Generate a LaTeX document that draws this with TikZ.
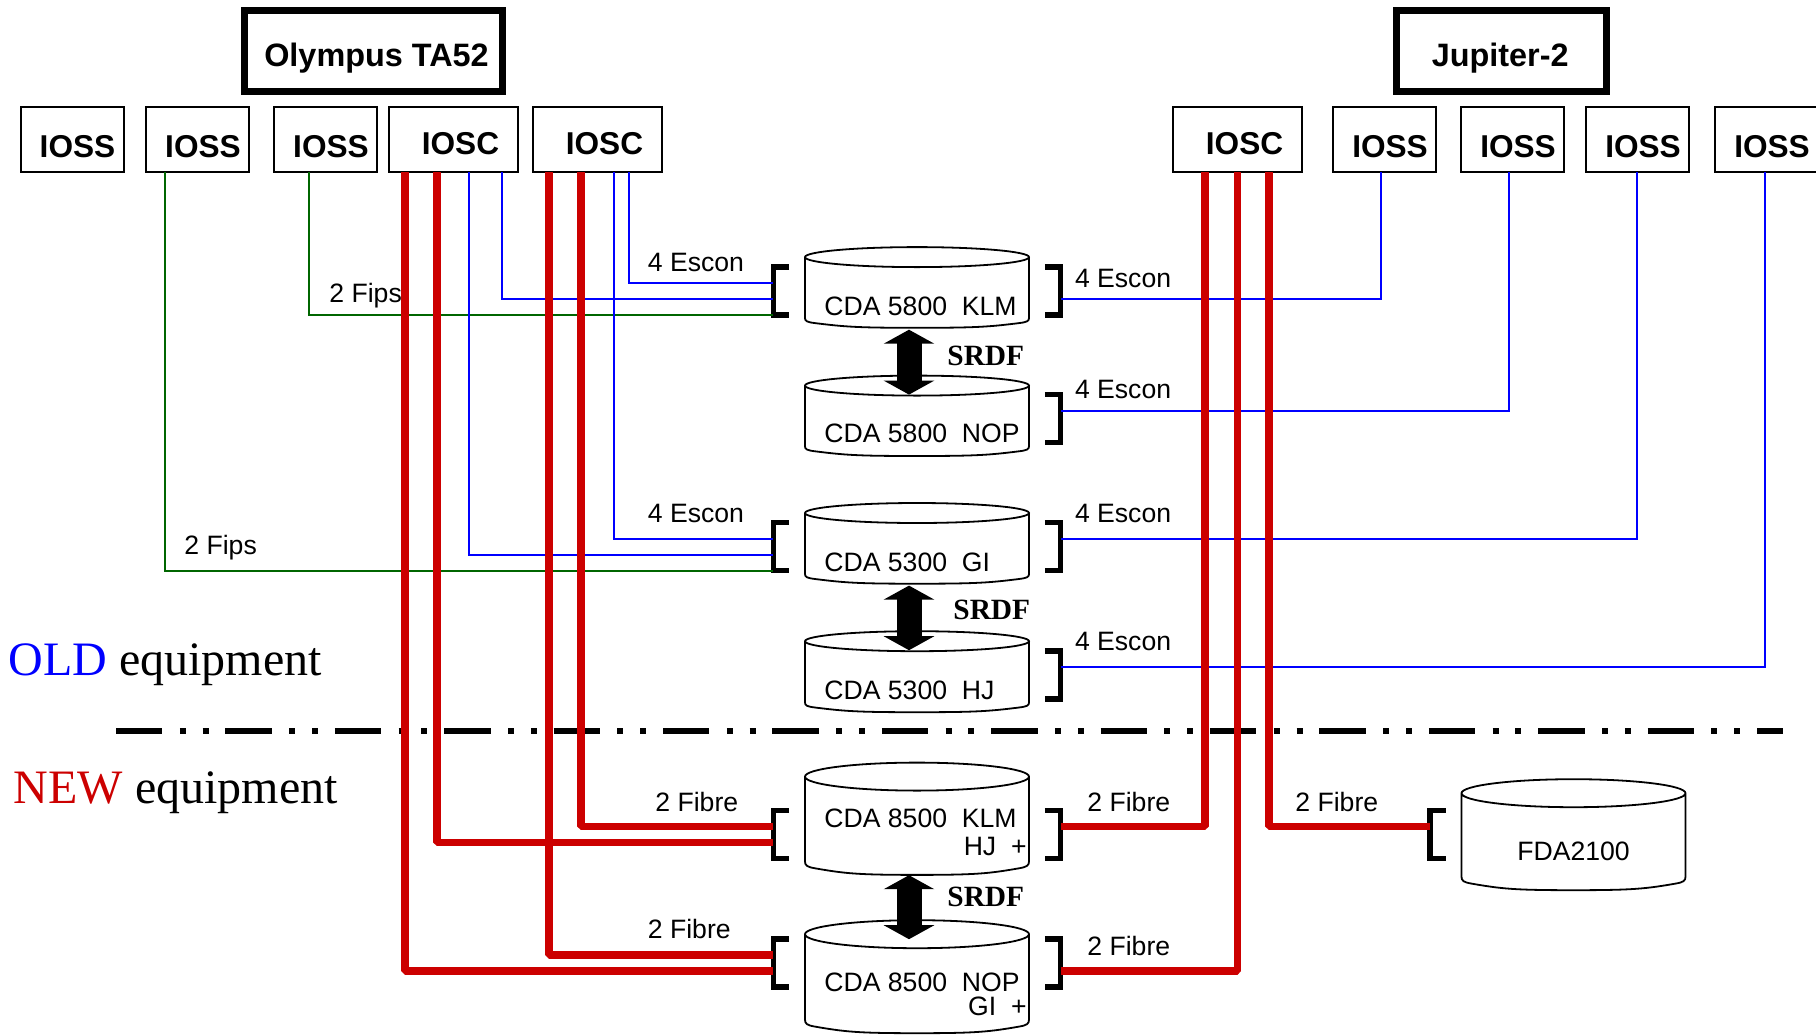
\documentclass[tikz,border=0pt]{standalone}
\usepackage{fontspec}
\setmainfont{Liberation Sans}
\newfontfamily\srdffont{Liberation Serif}
\usepackage{xcolor}
\definecolor{oldblue}{HTML}{0000FF}
\definecolor{newred}{HTML}{CC0000}
\definecolor{fipsgreen}{HTML}{006600}
\usetikzlibrary{arrows.meta,positioning}
\tikzset{
  box/.style={draw=black,line width=1pt,inner sep=0pt,outer sep=0pt,minimum height=32.5pt,font=\bfseries\fontsize{15.8}{18}\selectfont},
  ioss/.style={box,minimum width=51.5pt,text height=17.8pt,text depth=0pt,execute at begin node=\hspace*{5.5pt}},
  iosc/.style={box,minimum width=64.5pt,text height=14.5pt,text depth=0pt,execute at begin node=\hspace*{7pt}},
  host/.style={box,line width=3.5pt,minimum height=40.5pt,minimum width=105pt,text height=15.7pt,text depth=0pt,font=\bfseries\fontsize{16.2}{18}\selectfont},
  cda/.style={inner sep=0pt,outer sep=0pt,minimum width=112pt,minimum height=40.3pt},
  cdab/.style={cda,minimum height=56.3pt},
  cdaline/.style={draw=black,fill=white,line width=0.9pt},
  lab/.style={inner sep=0pt,anchor=base west,font=\fontsize{13.3}{15}\selectfont},
  srdf/.style={inner sep=0pt,anchor=base west,font=\srdffont\bfseries\fontsize{14.7}{16}\selectfont},
  hdg/.style={inner sep=0pt,anchor=base west,font=\srdffont\fontsize{24}{28}\selectfont},
  brk/.style={line width=2.6pt},
  fips/.style={draw=fipsgreen,line width=1pt},
  escon/.style={draw=oldblue,line width=1pt},
  fibre/.style={draw=newred,line width=3.8pt,line join=bevel},
  srdfarr/.style={line width=12.5pt,{Triangle[width=25pt,length=7pt]}-{Triangle[width=25pt,length=7pt]}},
}
\begin{document}
\begin{tikzpicture}[x=0.5pt,y=-0.5pt]
\useasboundingbox (0,0) rectangle (1816,1034);
% hosts
\node[host,minimum width=129pt,execute at begin node=\hspace*{3.5pt}] (olympus) at (373,51) {Olympus TA52};
\node[host,execute at begin node=\hspace*{-1.3pt}] (jupiter) at (1501.5,51) {Jupiter-2};
% channel boxes
\node[ioss] (iossa) at (72,139.5) {IOSS};
\node[ioss,right=11.25pt of iossa] (iossb) {IOSS};
\node[ioss,right=12.5pt of iossb] (iossc) {IOSS};
\node[iosc,right=6pt of iossc] (iosca) {IOSC};
\node[iosc,right=7.5pt of iosca] (ioscb) {IOSC};
\node[iosc] (ioscj) at (1237.5,139.5) {IOSC};
\node[ioss,right=15.5pt of ioscj] (iossj) {IOSS};
\node[ioss,right=12.5pt of iossj] (iossk) {IOSS};
\node[ioss,right=11pt of iossk] (iossl) {IOSS};
\node[ioss,right=13pt of iossl] (iossm) {IOSS};
% disks
\node[cda] (cdaklm) at (917,287.4) {};
\node[cda] (cdanop) at (917,415.9) {};
\node[cda] (cdagi) at (917,543.3) {};
\node[cda] (cdahj) at (917,671.5) {};
\node[cdab] (newklm) at (917,818.9) {};
\node[cdab] (newnop) at (917,976.5) {};
\node[cdab] (fda) at (1573.5,835.5) {};
\foreach \n/\r/\h in {cdaklm/10/61,cdanop/10/60.7,cdagi/10/61,cdahj/10/61.3,newklm/14/84.7,newnop/14/85.4,fda/14/83.4}
  \draw[cdaline] (\n.north west) ++(0,\r) arc[start angle=180,end angle=-180,x radius=112,y radius=\r]
    -- ++(0,\h) .. controls +(0,0.3*\r) and +(-8,-0.1*\r) .. ++(10,0.5*\r)
    .. controls +(30,0.37*\r) and +(-60,0) .. ++(102,0.47*\r)
    .. controls +(60,0) and +(-30,0.37*\r) .. ++(102,-0.47*\r)
    .. controls +(8,-0.1*\r) and +(0,0.3*\r) .. ++(10,-0.5*\r) -- ++(0,-\h);
% brackets
\foreach \n/\y in {klm/291,gi/546.5,nklm/834.5,nnop/963}{
  \coordinate (bl\n) at (773.3,\y);
  \draw[brk] (bl\n) ++(15.7,-24) -- ++(-15.7,0) -- ++(0,48) -- ++(15.7,0);
}
\foreach \n/\y in {klm/291,nop/418.5,gi/546.5,hj/675,nklm/834.5,nnop/963}{
  \coordinate (br\n) at (1060.5,\y);
  \draw[brk] (br\n) ++(-15.7,-24) -- ++(15.7,0) -- ++(0,48) -- ++(-15.7,0);
}
\coordinate (blfda) at (1430,834.5);
\draw[brk] (blfda) ++(15.7,-24) -- ++(-15.7,0) -- ++(0,48) -- ++(15.7,0);
% old links
\foreach \u/\dx/\v/\dy in {iossc/-8.15/blklm/-11.75,iossb/-16.25/blgi/-12.25}
  \draw[fips] ([xshift=\dx pt]\u.south) |- ([yshift=\dy pt]\v);
\foreach \u/\dx/\v/\dy in {iosca/24/blklm/-4,ioscb/15.75/blklm/4.15,iosca/7.75/blgi/-4,ioscb/8/blgi/4,
  iossj/-1.75/brklm/-4,iossk/-1.75/brnop/3.75,iossl/-0.25/brgi/4,iossm/-0.75/brhj/4}
  \draw[escon] ([xshift=\dx pt]\u.south) |- ([yshift=\dy pt]\v);
% old / new divider
\coordinate (sepa) at (116,730.7);
\coordinate (sepb) at (1783,730.7);
\draw[line width=2.8pt,dash pattern=on 23.2pt off 8.7pt on 3pt off 8.4pt on 3pt off 8.4pt] (sepa) -- (sepb);
% new links
\foreach \u/\dx/\v/\dy in {iosca/-24.25/blnnop/-3.85,iosca/-8.25/blnklm/-4,ioscb/-24.25/blnnop/4,ioscb/-8.25/blnklm/4,
  ioscj/-16.25/brnklm/4,ioscj/0/brnnop/-3.85,ioscj/15.75/blfda/4}
  \draw[fibre] ([xshift=\dx pt]\u.south) |- ([yshift=\dy pt]\v);
% srdf arrows
\foreach \u/\s/\v in {cdaklm/1/cdanop,cdagi/1/cdahj,newklm/0/newnop}
  \draw[srdfarr] ([xshift=-4pt,yshift=-\s pt]\u.south) -- ([xshift=-4pt,yshift=-9.5pt]\v.north);
\node[srdf] (srdfa) at (947,365) {SRDF};
\node[srdf] (srdfb) at (953,619) {SRDF};
\node[srdf] (srdfc) at (947,906.7) {SRDF};
% disk names
\node[lab] (nklm) at (824,315) {CDA 5800\ \ KLM};
\node[lab] (nnop) at (824,442.7) {CDA 5800\ \ NOP};
\node[lab] (ngi) at (824,571) {CDA 5300\ \ GI};
\node[lab] (nhj) at (824,699.5) {CDA 5300\ \ HJ};
\node[lab] (nnklm) at (824,827.5) {CDA 8500\ \ KLM};
\node[lab,anchor=base east] (nnhj) at (1027,855) {HJ\ \ +};
\node[lab] (nnnop) at (824,991.5) {CDA 8500\ \ NOP};
\node[lab,anchor=base east] (nngi) at (1027,1015) {GI\ \ +};
\node[lab] (nfda) at (1517,860) {FDA2100};
% link labels
\node[lab] (la) at (647.5,271) {4 Escon};
\node[lab] (lb) at (329,302.7) {2 Fips};
\node[lab] (lc) at (1074.6,287) {4 Escon};
\node[lab] (ld) at (1074.6,398.7) {4 Escon};
\node[lab] (le) at (647.5,522.3) {4 Escon};
\node[lab] (lf) at (1074.6,522.3) {4 Escon};
\node[lab] (lg) at (184,554.5) {2 Fips};
\node[lab] (lh) at (1074.6,650.7) {4 Escon};
\node[lab] (li) at (655,811) {2 Fibre};
\node[lab] (lj) at (1087,811) {2 Fibre};
\node[lab] (lk) at (1295,811) {2 Fibre};
\node[lab] (ll) at (647.5,938.3) {2 Fibre};
\node[lab] (lm) at (1087,955) {2 Fibre};
% legend
\node[hdg] (oldlab) at (8,675) {\textcolor{oldblue}{OLD} equipment};
\node[hdg] (newlab) at (13.5,803) {\textcolor{newred}{NEW} equipment};
\end{tikzpicture}
\end{document}
